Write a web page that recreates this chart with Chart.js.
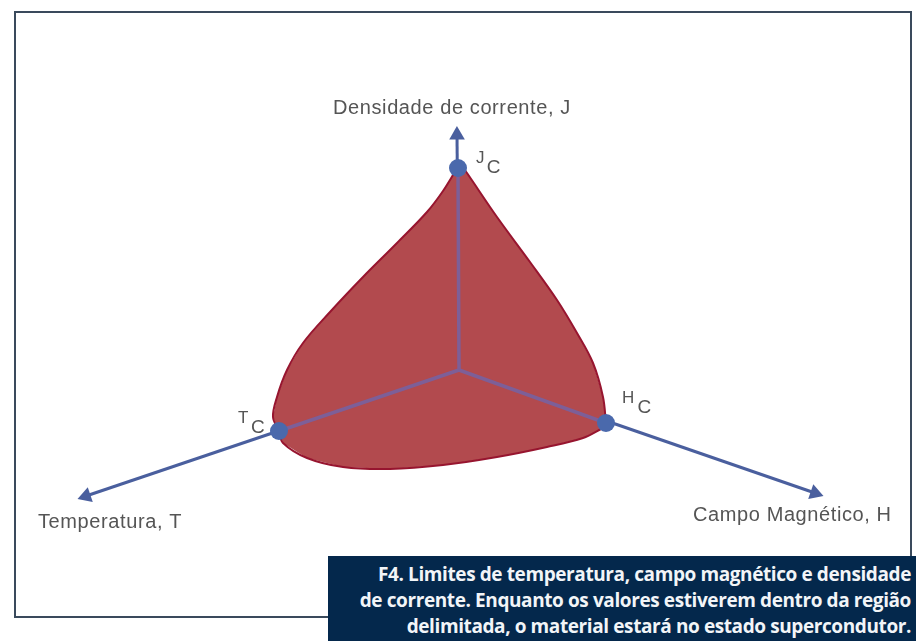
<!DOCTYPE html>
<html lang="pt">
<head>
    <meta charset="UTF-8">
    <title>Limites do estado supercondutor</title>
    <script src="https://cdn.jsdelivr.net/npm/chart.js@4"></script>
    <style>
        html, body { margin: 0; padding: 0; background: #fff; overflow: hidden; }
        #wrap { position: relative; width: 916px; height: 641px; }
        #frame { position: absolute; left: 14px; top: 11px; width: 894px; height: 603px; border: 2px solid #3a4a5c; }
        canvas { position: absolute; left: 0; top: 0; }
        #caption {
            position: absolute; left: 328px; top: 556px; width: 583px; height: 81px; padding: 5px 5px 0 0;
            background: #04284c; color: #f2f5f8; text-align: right; white-space: nowrap;
            font: bold 19px/26px "Open Sans", sans-serif; letter-spacing: -0.4px;
        }
    </style>
</head>
<body>
    <div id="wrap">
        <div id="frame"></div>
        <canvas id="chart" width="916" height="641"></canvas>
        <div id="caption">F4. Limites de temperatura, campo magnético e densidade<br>de corrente. Enquanto os valores estiverem dentro da região<br>delimitada, o material estará no estado supercondutor.</div>
    </div>

    <script>
        // x to the right and y downwards
        const origin = [459, 370];
        const axisTips = [[457, 135], [86, 496], [815, 493]];
        const criticalPoints = [[458, 168], [279, 431], [606, 423]];

        // The three edges of the region, J to T, T to H, H to J
        const edgeJT = [[456, 170], [443, 191], [427, 212], [397, 243], [363, 277], [330, 312], [303, 343], [287, 370], [277, 397], [273, 417], [279, 431]];
        const edgeTH = [[279, 431], [283, 443], [307, 458], [343, 467], [390, 469], [443, 465], [497, 457], [547, 447], [583, 438], [603, 428]];
        const edgeHJ = [[606, 423], [603, 397], [593, 363], [577, 333], [557, 300], [530, 262], [497, 217], [467, 173], [459, 162]];

        const axisLabels = ['Densidade de corrente, J', 'Temperatura, T', 'Campo Magnético, H'];
        const axisLabelX = [333, 38, 693];
        const axisLabelY = [108, 522, 515];
        const criticalLabels = ['J', 'T', 'H'];
        const criticalLabelX = [476, 238, 622];
        const criticalLabelY = [158, 418, 398];

        const toPoint = p => ({ x: p[0], y: p[1] });

        // Axis runs inside the red region look purple, outside they are plain blue
        function axisDataset(i) {
            const tip = axisTips[i];
            const angle = Math.atan2(tip[0] - origin[0], origin[1] - tip[1]) * 180 / Math.PI;
            return {
                data: [toPoint(origin), toPoint(tip)],
                showLine: true,
                borderColor: '#4a5f9e',
                borderWidth: 3,
                pointStyle: ['circle', 'triangle'],
                pointRadius: [0, 9],
                pointRotation: [0, angle],
                pointBackgroundColor: '#4a5f9e',
                pointBorderWidth: 0
            };
        }

        function innerDataset(i) {
            return {
                data: [toPoint(origin), toPoint(criticalPoints[i])],
                showLine: true,
                borderColor: '#7d5f98',
                borderWidth: 3.5,
                pointRadius: 0
            };
        }

        // Stroked apart from the fill so the curve does not overshoot at the corners
        function edgeDataset(edge) {
            return {
                data: edge.map(toPoint),
                showLine: true,
                tension: 0.35,
                borderColor: '#97152f',
                borderWidth: 2,
                pointRadius: 0
            };
        }

        // Axis names and the J_C, T_C, H_C marks go through the same scales as the data
        const labelsPlugin = {
            id: 'labels',
            afterDatasetsDraw(chart) {
                const c = chart.ctx, xs = chart.scales.x, ys = chart.scales.y;
                c.save();
                c.fillStyle = '#555';
                c.textBaseline = 'middle';
                c.font = '20px "Liberation Sans", sans-serif';
                c.letterSpacing = '0.6px';
                axisLabels.forEach((t, i) => {
                    c.fillText(t, xs.getPixelForValue(axisLabelX[i]), ys.getPixelForValue(axisLabelY[i]));
                });
                c.letterSpacing = '0px';
                criticalLabels.forEach((t, i) => {
                    const x = xs.getPixelForValue(criticalLabelX[i]);
                    const y = ys.getPixelForValue(criticalLabelY[i]);
                    c.font = '17px "Liberation Sans", sans-serif';
                    c.fillText(t, x, y);
                    c.font = '19px "Liberation Sans", sans-serif';
                    c.fillText('C', x + c.measureText(t).width * 1.13, y + 9.5);
                });
                c.restore();
            }
        };

        new Chart(document.getElementById('chart').getContext('2d'), {
            type: 'scatter',
            data: {
                datasets: [
                    axisDataset(0), axisDataset(1), axisDataset(2),
                    {
                        data: edgeJT.concat(edgeTH, edgeHJ).map(toPoint),
                        showLine: true,
                        fill: 'shape',
                        backgroundColor: '#b24a4e',
                        borderWidth: 0,
                        pointRadius: 0
                    },
                    edgeDataset(edgeJT), edgeDataset(edgeTH), edgeDataset(edgeHJ),
                    innerDataset(0), innerDataset(1), innerDataset(2),
                    {
                        data: criticalPoints.map(toPoint),
                        pointRadius: 9,
                        pointBackgroundColor: '#4a69ac',
                        pointBorderWidth: 0
                    }
                ].map((d, i) => Object.assign(d, { order: -i }))
            },
            options: {
                responsive: false,
                animation: false,
                events: [],
                layout: { padding: 0, autoPadding: false },
                scales: {
                    x: { type: 'linear', min: 0, max: 916, display: false },
                    y: { type: 'linear', min: 0, max: 641, reverse: true, display: false }
                },
                plugins: { legend: { display: false }, tooltip: { enabled: false } }
            },
            plugins: [labelsPlugin]
        });
    </script>
</body>
</html>
